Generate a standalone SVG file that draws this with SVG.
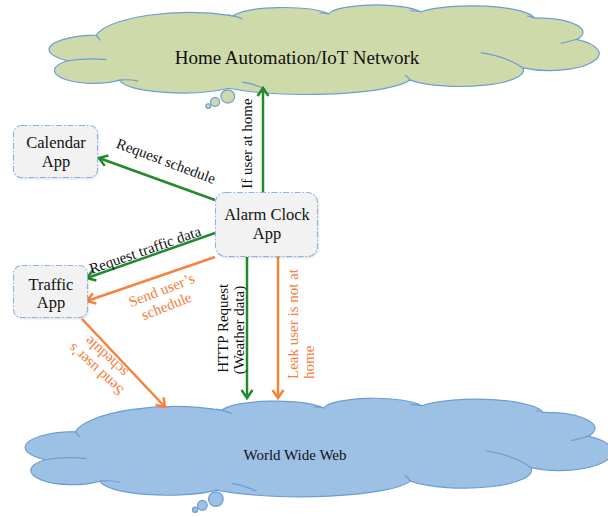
<svg xmlns="http://www.w3.org/2000/svg" width="608" height="517" viewBox="0 0 608 517">
  <style>
    .cloud-outline { stroke: #6d9cd2; stroke-width: 1.2; vector-effect: non-scaling-stroke; }
    .cloud-inner { fill: none; stroke: #6d9cd2; stroke-width: 1.2; vector-effect: non-scaling-stroke; }
    .box { fill: #f2f2f2; stroke: #8db3e2; stroke-width: 1.1; stroke-dasharray: 6 2 1.5 2; }
    .box-shadow { fill: #000; opacity: 0.14; filter: url(#soft); }
    .node-text { font-family: "Liberation Serif", "Times New Roman", serif; font-size: 16.5px; fill: #111; text-anchor: middle; }
    .cloud-text { font-family: "Liberation Serif", "Times New Roman", serif; fill: #111; text-anchor: middle; }
    .edge { fill: none; stroke-width: 2.5; }
    .green { stroke: #23892d; }
    .orange { stroke: #f6823d; }
    .label { font-family: "Liberation Serif", "Times New Roman", serif; font-size: 15px; }
    .label-dark { fill: #111; }
    .label-orange { fill: #f67d3c; }
  </style>
  <defs>
    <filter id="soft" x="-10%" y="-10%" width="120%" height="130%">
      <feGaussianBlur stdDeviation="1"/>
    </filter>
    <!-- open V arrowheads -->
    <marker id="head-green" markerUnits="userSpaceOnUse" markerWidth="16" markerHeight="16" viewBox="-12 -8 16 16" refX="0" refY="0" orient="auto" overflow="visible">
      <path d="M-8,-5.5 L0,0 L-8,5.5" fill="none" stroke="#23892d" stroke-width="2.5"/>
    </marker>
    <marker id="head-orange" markerUnits="userSpaceOnUse" markerWidth="16" markerHeight="16" viewBox="-12 -8 16 16" refX="0" refY="0" orient="auto" overflow="visible">
      <path d="M-8,-5.5 L0,0 L-8,5.5" fill="none" stroke="#f6823d" stroke-width="2.5"/>
    </marker>
    <!-- cloud shape with its trailing bubbles -->
    <g id="cloud-shape">
      <path d="M75 61 A46 14 0 0 1 102 36 A90 28 0 0 1 232 17 A50 12 0 0 1 323 15 A45 10 0 0 1 410 13 A60 14 0 0 1 518 19 A45 14 0 0 1 558 40 A45 16 0 0 1 507 68 A60 16 0 0 1 400 80 A100 18 0 0 1 228 88 A60 14 0 0 1 124 80 A35 12 0 0 1 75 61 Z" class="cloud-outline"/>
      <path d="M75 61 Q95 58 112 60 M102 36 Q104 38 106 41 M227 16 Q235 17 241 20 M323 15 Q318 14 314 14 M410 13 Q405 12 400 12 M518 19 Q515 18 511 17 M543 44 Q552 42 558 40 M467 53 Q492 57 507 68 M400 80 Q398 77 395 75 M241 82 Q253 84 263 89 M124 80 Q134 79 142 81" class="cloud-inner"/>
      <circle cx="227" cy="96" r="6.5" class="cloud-outline"/>
      <circle cx="215" cy="101.5" r="4.3" class="cloud-outline"/>
      <circle cx="208.5" cy="105.5" r="2.3" class="cloud-outline"/>
    </g>
  </defs>

  <g id="node-home-network">
    <use href="#cloud-shape" fill="#cfdaab" transform="matrix(1.054 0 0 1.02 -11.5 -1.5)"/>
    <text class="cloud-text" x="297" y="64" font-size="19">Home Automation/IoT Network</text>
  </g>

  <g id="node-www">
    <use href="#cloud-shape" fill="#9dc1e5" transform="matrix(1.125 0 0 1.125 -39.5 391.1)"/>
    <text class="cloud-text" x="295" y="460" font-size="15">World Wide Web</text>
  </g>

  <g id="connectors">
    <line class="edge green" x1="263" y1="192" x2="263" y2="88" marker-end="url(#head-green)"/>
    <line class="edge green" x1="215" y1="200" x2="99" y2="158" marker-end="url(#head-green)"/>
    <line class="edge green" x1="215" y1="233" x2="87" y2="278" marker-end="url(#head-green)"/>
    <line class="edge orange" x1="215" y1="257" x2="87" y2="301" marker-end="url(#head-orange)"/>
    <line class="edge orange" x1="82" y1="319" x2="165" y2="407" marker-end="url(#head-orange)"/>
    <line class="edge green" x1="247" y1="257" x2="247" y2="398" marker-end="url(#head-green)"/>
    <line class="edge orange" x1="278" y1="257" x2="278" y2="398" marker-end="url(#head-orange)"/>

    <text class="label label-dark" text-anchor="middle" transform="translate(251.5 143.5) rotate(-90)">If user at home</text>
    <text class="label label-dark" text-anchor="middle" transform="translate(164.3 165.7) rotate(20.5)">Request schedule</text>
    <text class="label label-dark" text-anchor="middle" transform="translate(146.7 254.7) rotate(-19.3)">Request traffic data</text>
    <text class="label label-orange" text-anchor="middle" transform="translate(163.3 294.7) rotate(-21.2)">Send user’s</text>
    <text class="label label-orange" text-anchor="middle" transform="translate(168.3 310.7) rotate(-21.2)">schedule</text>
    <text class="label label-orange" text-anchor="middle" transform="translate(99.2 366) rotate(222.5)">Send user’s</text>
    <text class="label label-orange" text-anchor="middle" transform="translate(109.4 353.3) rotate(222.5)">schedule</text>
    <text class="label label-dark" text-anchor="middle" transform="translate(227.5 328.3) rotate(-90)">HTTP Request</text>
    <text class="label label-dark" text-anchor="middle" transform="translate(243.5 330) rotate(-90)">(Weather data)</text>
    <text class="label label-orange" text-anchor="start" transform="translate(298 379) rotate(-90)">Leak user is not at</text>
    <text class="label label-orange" text-anchor="start" transform="translate(313.5 379) rotate(-90)">home</text>
  </g>

  <g id="node-calendar">
    <rect class="box-shadow" x="14.5" y="127" width="84" height="52" rx="8"/>
    <rect class="box" x="13.5" y="125.5" width="84" height="52" rx="8"/>
    <text class="node-text" x="56" y="148">Calendar</text>
    <text class="node-text" x="56" y="167">App</text>
  </g>

  <g id="node-alarm">
    <rect class="box-shadow" x="216.5" y="194" width="102" height="64" rx="10"/>
    <rect class="box" x="215.5" y="192.5" width="102" height="64" rx="10"/>
    <text class="node-text" x="267" y="220">Alarm Clock</text>
    <text class="node-text" x="267" y="239">App</text>
  </g>

  <g id="node-traffic">
    <rect class="box-shadow" x="14.5" y="267" width="74" height="52" rx="8"/>
    <rect class="box" x="13.5" y="265.5" width="74" height="52" rx="8"/>
    <text class="node-text" x="51" y="290">Traffic</text>
    <text class="node-text" x="51" y="308">App</text>
  </g>
</svg>
